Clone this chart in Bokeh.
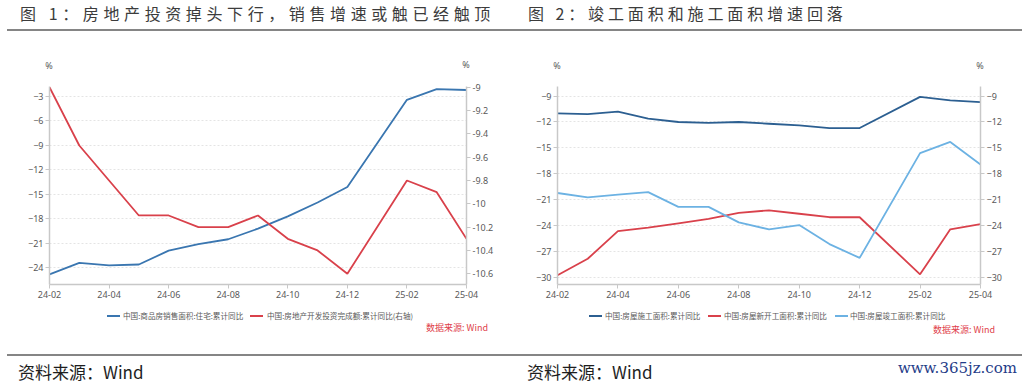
from bokeh.plotting import figure
from bokeh.models import Range1d, LinearAxis, FixedTicker, Div, NumeralTickFormatter
from bokeh.layouts import row, column
from bokeh.embed import file_html
from bokeh.resources import INLINE

# ---------------- data ----------------
months = ["24-02", "24-03", "24-04", "24-05", "24-06", "24-07", "24-08", "24-09",
          "24-10", "24-11", "24-12", "25-02", "25-03", "25-04"]
x_tick_labels = ["24-02", "24-04", "24-06", "24-08", "24-10", "24-12", "25-02", "25-04"]

# chart 1
sales_area_yoy = [-24.8, -23.4, -23.7, -23.6, -21.9, -21.1, -20.5, -19.2, -17.7, -16.0, -14.1, -3.4, -2.1, -2.2]
investment_yoy = [-9.0, -9.5, -9.8, -10.1, -10.1, -10.2, -10.2, -10.1, -10.3, -10.4, -10.6, -9.8, -9.9, -10.3]
left1_ticks = [-24, -21, -18, -15, -12, -9, -6, -3]
right1_ticks = [-10.6, -10.4, -10.2, -10.0, -9.8, -9.6, -9.4, -9.2, -9.0]

# chart 2
construction_yoy = [-11.0, -11.1, -10.8, -11.6, -12.0, -12.1, -12.0, -12.2, -12.4, -12.7, -12.7, -9.1, -9.5, -9.7]
new_start_yoy = [-29.7, -27.8, -24.6, -24.2, -23.7, -23.2, -22.5, -22.2, -22.6, -23.0, -23.0, -29.6, -24.4, -23.8]
completion_yoy = [-20.2, -20.7, -20.4, -20.1, -21.8, -21.8, -23.6, -24.4, -23.9, -26.1, -27.7, -15.6, -14.3, -16.9]
axis2_ticks = [-30, -27, -24, -21, -18, -15, -12, -9]

title1 = "图 1：房地产投资掉头下行，销售增速或触已经触顶"
title2 = "图 2：竣工面积和施工面积增速回落"
legend1 = ["中国:商品房销售面积:住宅:累计同比", "中国:房地产开发投资完成额:累计同比(右轴)"]
legend2 = ["中国:房屋施工面积:累计同比", "中国:房屋新开工面积:累计同比", "中国:房屋竣工面积:累计同比"]
unit_text = "%"
note_text = "数据来源: Wind"
source_text = "资料来源：Wind"
site_text = "www.365jz.com"

# colours
C_SALES = "#3a76b0"
C_INV = "#d9414b"
C_CONS = "#2c5f91"
C_NEW = "#d9414b"
C_COMP = "#6cb2e3"


def month_index(s):
    y, m = s.split("-")
    return (int(y) - 24) * 12 + int(m) - 2


xs = [month_index(m) for m in months]
x_ticks = [month_index(m) for m in x_tick_labels]

CJK = "Noto Sans CJK SC"
NUM = "Noto Sans"
AXIS_GRAY = "#c8c8c8"
LABEL_GRAY = "#595959"
RULE = "#858585"
W = 512


def style_axis(ax, ticks):
    ax.ticker = FixedTicker(ticks=ticks)
    ax.axis_line_color = AXIS_GRAY
    ax.axis_line_width = 1.5
    ax.major_tick_line_color = AXIS_GRAY
    ax.major_tick_out = 4
    ax.major_tick_in = 0
    ax.minor_tick_line_color = None
    ax.major_label_text_font = NUM
    ax.major_label_text_font_size = "9px"
    ax.major_label_text_color = LABEL_GRAY
    ax.major_label_standoff = 2


def base_fig(bl, br, bt, bb, yr):
    p = figure(width=W, height=238, output_backend="svg", toolbar_location=None, title=None,
               x_range=Range1d(0, 14), y_range=Range1d(*yr),
               min_border_left=bl, min_border_right=br, min_border_top=bt, min_border_bottom=bb)
    p.outline_line_color = None
    p.background_fill_alpha = 0
    p.border_fill_alpha = 0
    p.xgrid.grid_line_color = None
    p.ygrid.grid_line_color = "#e4e4e4"
    p.ygrid.grid_line_dash = "2 2"
    p.ygrid.grid_line_width = 1
    style_axis(p.xaxis[0], x_ticks)
    p.xaxis[0].major_label_overrides = {t: l for t, l in zip(x_ticks, x_tick_labels)}
    return p


def abs_text(text, left, top, size, color, font=CJK, extra="", center=False, right=None):
    pos = f"left:{left}px;" if right is None else f"right:{right}px;"
    tr = "transform:translateX(-50%);" if center else ""
    return (f'<div style="position:absolute;{pos}top:{top}px;font-family:\'{font}\';'
            f'font-size:{size}px;line-height:{size + 2}px;color:{color};white-space:nowrap;{tr}{extra}">'
            f'{text}</div>')


def rule(left, top, width):
    return (f'<div style="position:absolute;left:{left}px;top:{top}px;width:{width}px;'
            f'height:2px;background:{RULE};"></div>')


def legend_item(dash_left, text_left, color, text):
    return (f'<div style="position:absolute;left:{dash_left}px;top:7px;width:13px;height:2px;'
            f'background:{color};"></div>'
            + abs_text(text, text_left, 3, 7.6, LABEL_GRAY))


def box(inner, h):
    return Div(text=f'<div style="position:relative;width:{W}px;height:{h}px;">{inner}</div>',
               width=W, height=h, margin=(0, 0, 0, 0), styles={"overflow": "visible"})


# ---------------- header (height 70) ----------------
head1 = box(abs_text(title1, 20, 4, 16, "#3c3c3c", extra="letter-spacing:4.6px;")
            + rule(7, 29, 505)
            + abs_text(unit_text, 49, 60, 9, LABEL_GRAY, font=NUM, center=True)
            + abs_text(unit_text, 466, 59, 9, LABEL_GRAY, font=NUM, center=True), 70)
head2 = box(abs_text(title2, 16, 4, 16, "#3c3c3c", extra="letter-spacing:3.9px;")
            + rule(0, 29, 510)
            + abs_text(unit_text, 45, 60, 9, LABEL_GRAY, font=NUM, center=True)
            + abs_text(unit_text, 468, 60, 9, LABEL_GRAY, font=NUM, center=True), 70)

# ---------------- footer (page y 308 .. 384) ----------------
foot1 = box(legend_item(107, 123, C_SALES, legend1[0])
            + legend_item(250, 267, C_INV, legend1[1])
            + abs_text(note_text, 0, 14, 9, "#e0404a", right=24)
            + rule(7, 46, 505)
            + abs_text(source_text, 18, 54, 17, "#1e1e1e"), 76)
foot2 = box(legend_item(77, 93, C_CONS, legend2[0])
            + legend_item(196, 212, C_NEW, legend2[1])
            + legend_item(323, 338, C_COMP, legend2[2])
            + abs_text(note_text, 0, 16, 9, "#e0404a", right=29)
            + rule(0, 46, 510)
            + abs_text(source_text, 15, 54, 17, "#1e1e1e")
            + abs_text(site_text, 0, 52, 15, "#1f3c88", font="DejaVu Serif", right=7), 76)

# ---------------- figure 1 ----------------
p1 = base_fig(49, 46, 16, 24, (-26.05, -1.77))
style_axis(p1.yaxis[0], left1_ticks)
p1.ygrid.ticker = FixedTicker(ticks=left1_ticks)
p1.extra_y_ranges = {"right": Range1d(-10.692, -8.994)}
ax_r1 = LinearAxis(y_range_name="right")
style_axis(ax_r1, right1_ticks)
ax_r1.formatter = NumeralTickFormatter(format="0.[0]")
p1.add_layout(ax_r1, "right")

p1.line(xs, sales_area_yoy, line_color=C_SALES, line_width=1.8)
p1.line(xs, investment_yoy, line_color=C_INV, line_width=1.8, y_range_name="right")

# ---------------- figure 2 ----------------
p2 = base_fig(45, 44, 7, 24, (-30.77, -7.9))
style_axis(p2.yaxis[0], axis2_ticks)
p2.ygrid.ticker = FixedTicker(ticks=axis2_ticks)
ax_r2 = LinearAxis()
style_axis(ax_r2, axis2_ticks)
p2.add_layout(ax_r2, "right")

p2.line(xs, construction_yoy, line_color=C_CONS, line_width=1.8)
p2.line(xs, new_start_yoy, line_color=C_NEW, line_width=1.8)
p2.line(xs, completion_yoy, line_color=C_COMP, line_width=1.8)

layout = column(row(head1, head2, spacing=0), row(p1, p2, spacing=0), row(foot1, foot2, spacing=0),
                spacing=0)
open("out.html", "w").write(file_html(layout, INLINE))
